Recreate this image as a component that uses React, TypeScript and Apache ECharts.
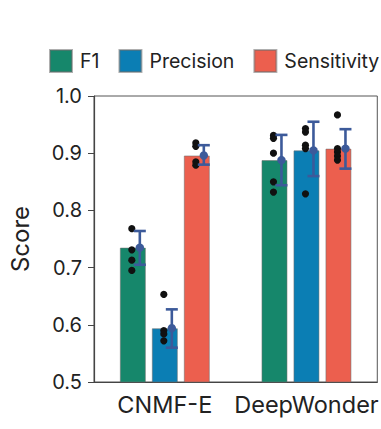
import React, { useEffect, useRef } from "react";
import * as echarts from "echarts";

const categories = ["CNMF-E", "DeepWonder"];
const seriesNames = ["F1", "Precision", "Sensitivity"];
const colors = ["#16876b", "#0b7eb4", "#ec5f4e"];

const f1Mean = [0.735, 0.888];
const precisionMean = [0.594, 0.905];
const sensitivityMean = [0.896, 0.908];

const f1Low = [0.705, 0.844];
const f1High = [0.764, 0.932];
const precisionLow = [0.560, 0.860];
const precisionHigh = [0.627, 0.955];
const sensitivityLow = [0.880, 0.873];
const sensitivityHigh = [0.914, 0.942];

const f1Points = [
  [0.768, 0.731, 0.713, 0.695],
  [0.931, 0.926, 0.9, 0.85, 0.832],
];
const precisionPoints = [
  [0.653, 0.59, 0.584, 0.572],
  [0.943, 0.937, 0.914, 0.908, 0.829],
];
const sensitivityPoints = [
  [0.918, 0.912, 0.885, 0.879],
  [0.967, 0.908, 0.902, 0.895, 0.888],
];

const yTicks = [0.5, 0.6, 0.7, 0.8, 0.9, 1.0];

const FONT = "Inter";
const ERR_COLOR = "#3c5a9a";

export default function App() {
  const ref = useRef<HTMLDivElement>(null);

  useEffect(() => {
    if (!ref.current) return;
    const chart = echarts.init(ref.current, undefined, { renderer: "svg" });

    const means = [f1Mean, precisionMean, sensitivityMean];
    const lows = [f1Low, precisionLow, sensitivityLow];
    const highs = [f1High, precisionHigh, sensitivityHigh];
    const points = [f1Points, precisionPoints, sensitivityPoints];
    const step = 32;

    const barSeries = seriesNames.map((name, i) => ({
      name,
      type: "bar",
      data: means[i],
      barWidth: 26,
      barGap: "23%",
      itemStyle: {
        color: colors[i],
        borderColor: "rgba(110,110,110,0.55)",
        borderWidth: 1,
      },
      z: 2,
    }));

    const dotSeries = seriesNames.map((name, i) => {
      const data: number[][] = [];
      points[i].forEach((arr, c) => arr.forEach((v) => data.push([c, v])));
      return {
        name,
        type: "custom",
        data,
        z: 3,
        renderItem: (params: any, api: any) => {
          const p = api.coord([api.value(0), api.value(1)]);
          return {
            type: "circle",
            shape: { cx: p[0] + (i - 1) * step - 1, cy: p[1], r: 3.6 },
            style: { fill: "#111" },
          };
        },
      };
    });

    const errSeries = seriesNames.map((name, i) => {
      const data = categories.map((_, c) => [c, means[i][c], lows[i][c], highs[i][c]]);
      return {
        name,
        type: "custom",
        data,
        z: 4,
        renderItem: (params: any, api: any) => {
          const c = api.value(0);
          const m = api.coord([c, api.value(1)]);
          const lo = api.coord([c, api.value(2)]);
          const hi = api.coord([c, api.value(3)]);
          const x = m[0] + (i - 1) * step + 7;
          const cap = 6;
          const ls = { stroke: ERR_COLOR, lineWidth: 2.6 };
          return {
            type: "group",
            children: [
              { type: "line", shape: { x1: x, y1: lo[1], x2: x, y2: hi[1] }, style: ls },
              { type: "line", shape: { x1: x - cap, y1: hi[1], x2: x + cap, y2: hi[1] }, style: ls },
              { type: "line", shape: { x1: x - cap, y1: lo[1], x2: x + cap, y2: lo[1] }, style: ls },
              { type: "circle", shape: { cx: x, cy: m[1], r: 4.2 }, style: { fill: ERR_COLOR } },
            ],
          };
        },
      };
    });

    chart.setOption({
      animation: false,
      textStyle: { fontFamily: FONT },
      legend: {
        data: seriesNames,
        left: 49,
        top: 49,
        width: 340,
        padding: 0,
        icon: "rect",
        itemWidth: 22,
        itemHeight: 22,
        itemGap: 19,
        textStyle: { fontSize: 19.5, color: "#222", fontFamily: FONT, padding: [0, 0, 0, 3] },
      },
      grid: {
        left: 94,
        top: 96,
        width: 286,
        height: 286,
        show: true,
        borderColor: "#555",
        borderWidth: 1,
      },
      xAxis: {
        type: "category",
        data: categories,
        axisLine: { lineStyle: { color: "#444", width: 1.2 } },
        axisTick: { alignWithLabel: true, inside: true, length: 5, lineStyle: { color: "#444" } },
        axisLabel: { fontSize: 23.5, color: "#222", margin: 10, fontFamily: FONT, interval: 0 },
      },
      yAxis: {
        type: "value",
        min: yTicks[0],
        max: yTicks[yTicks.length - 1],
        interval: 0.1,
        name: "Score",
        nameLocation: "middle",
        nameGap: 62,
        nameTextStyle: { fontSize: 24, color: "#222", fontFamily: FONT },
        axisLine: { show: true, lineStyle: { color: "#444", width: 1.2 } },
        axisTick: { show: true, length: 6, lineStyle: { color: "#444" } },
        splitLine: { show: false },
        axisLabel: {
          fontSize: 20,
          color: "#222",
          margin: 12,
          fontFamily: FONT,
          formatter: (v: number) => v.toFixed(1),
        },
      },
      series: [...barSeries, ...dotSeries, ...errSeries],
    });

    return () => chart.dispose();
  }, []);

  return (
    <div
      ref={ref}
      style={{ position: "fixed", left: 0, top: 0, width: 381, height: 429, background: "#fff" }}
    />
  );
}
